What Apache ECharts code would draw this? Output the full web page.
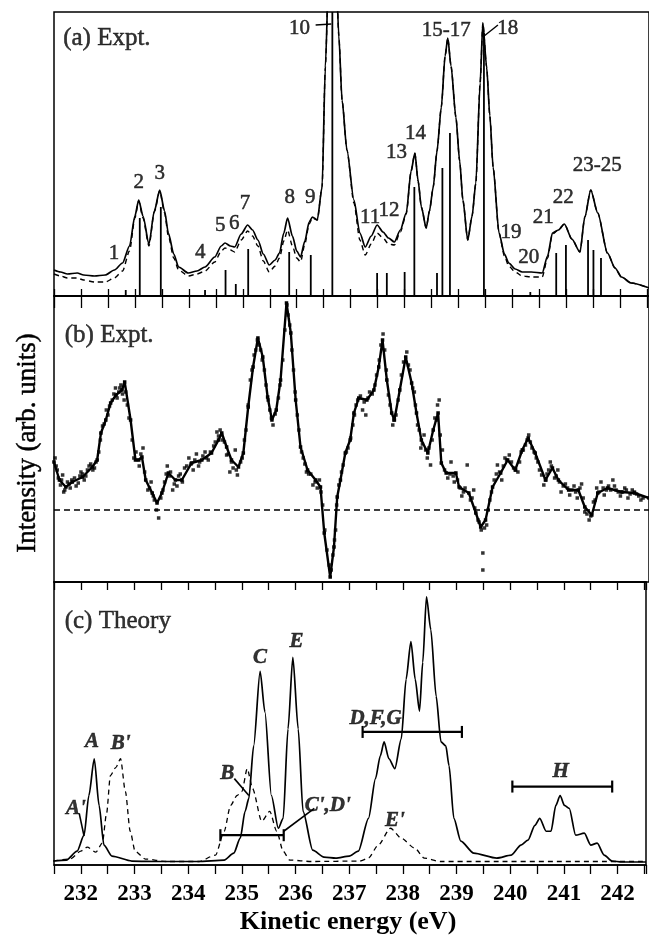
<!DOCTYPE html>
<html>
<head>
<meta charset="utf-8">
<script src="https://cdn.jsdelivr.net/npm/echarts@6/dist/echarts.min.js"></script>
<style>
  html, body { margin: 0; padding: 0; background: #fff; }
  #chart { width: 649px; height: 936px; }
</style>
</head>
<body>
<div id="chart"></div>
<script>
// energy axis (eV); the right end runs past the picture edge, as in the original
var xMin = 231.5, xMax = 242.53;
var serif = '"Liberation Serif", "Times New Roman", serif';

// (a) Expt. -- two measured curves, heights above panel floor
var aE      = [231.50,231.62,231.75,231.93,232.05,232.25,232.45,232.62,232.77,232.90,233.00,233.07,233.15,233.26,233.36,233.46,233.55,233.62,233.72,233.81,233.99,234.15,234.30,234.48,234.60,234.67,234.77,234.85,234.97,235.09,235.18,235.28,235.38,235.49,235.60,235.68,235.76,235.83,235.92,236.00,236.07,236.15,236.23,236.29,236.38,236.47,236.53,236.60,236.66,236.72,236.78,236.84,236.93,237.06,237.17,237.27,237.38,237.49,237.60,237.70,237.81,237.92,238.03,238.12,238.19,238.25,238.31,238.40,238.46,238.53,238.60,238.68,238.75,238.80,238.86,238.95,239.02,239.08,239.17,239.25,239.32,239.40,239.45,239.52,239.58,239.64,239.75,239.85,239.93,240.05,240.18,240.35,240.55,240.65,240.74,240.85,240.96,241.10,241.25,241.34,241.45,241.58,241.76,241.90,242.02,242.20,242.53];
var aSolid  = [26,24,22,23,21,20,21,26,33,50,80,96,80,52,85,106,85,63,42,29,23,25,29,39,50,53,50,49,62,71,66,56,42,31,36,43,63,78,60,45,39,55,74,79,76,109,229,340,420,340,260,196,146,96,63,49,60,71,64,58,54,66,83,125,143,115,89,68,85,109,145,189,240,258,230,179,135,96,56,80,113,213,273,229,180,129,63,42,33,27,24,24,23,40,63,66,72,57,44,79,106,83,43,28,19,13,8];
var aDashed = [22,20,18,18,16,14,14,18,25,45,78,95,78,50,84,105,83,60,38,26,20,22,25,34,45,48,46,44,56,65,60,50,35,24,30,38,55,66,50,38,34,52,72,78,76,109,229,340,420,340,260,196,146,93,56,41,52,63,58,52,51,64,82,125,143,115,89,68,85,109,145,189,240,258,230,179,135,96,56,80,113,213,273,229,180,129,63,40,30,24,20,19,19,38,62,66,72,57,44,79,106,83,43,28,19,13,8];

// (a) stick spectrum: energy, height
var sticksE = [232.83,233.09,233.48,234.30,234.68,234.87,235.10,235.86,236.26,236.66,237.49,237.67,238.00,238.18,238.60,238.70,238.84,239.47,240.33,240.81,240.99,241.40,241.50,241.64];
var sticksH = [6,78,89,6,26,12,47,44,41,284,23,23,24,109,23,128,163,263,4,43,51,56,46,38];

// (a) peak numbers: text, energy, height
var aLabelText = ['1','2','3','4','5','6','7','8','9','10','11','12','13','14','15-17','18','19','20','21','22','23-25'];
var aLabelE    = [232.61,233.07,233.46,234.21,234.58,234.84,235.04,235.87,236.25,236.05,237.36,237.71,237.85,238.20,238.77,239.91,239.97,240.30,240.57,240.94,241.57];
var aLabelH    = [43,114,123,44,71,73,93,99,99,268,79,86,144,163,266,268,64,39,79,99,131];

// (b) Expt. -- difference spectrum, value relative to dashed zero line
var bE    = [231.50,231.60,231.72,231.84,232.03,232.21,232.30,232.37,232.46,232.55,232.65,232.76,232.81,232.92,233.01,233.07,233.13,233.20,233.32,233.41,233.50,233.62,233.75,233.87,234.05,234.24,234.42,234.55,234.61,234.70,234.79,234.92,235.01,235.10,235.19,235.28,235.37,235.46,235.54,235.62,235.70,235.81,235.89,235.98,236.07,236.20,236.35,236.44,236.51,236.62,236.69,236.75,236.81,236.90,236.99,237.06,237.15,237.30,237.43,237.52,237.59,237.67,237.76,237.81,237.91,238.02,238.13,238.22,238.31,238.43,238.53,238.62,238.68,238.77,238.95,239.01,239.19,239.32,239.41,239.50,239.63,239.78,239.91,240.05,240.18,240.29,240.42,240.61,240.74,240.85,241.04,241.22,241.34,241.47,241.58,241.76,242.02,242.26,242.53];
var bLine = [48,30,23,28,33,43,50,77,90,107,115,120,128,90,50,50,53,30,17,7,17,37,30,30,47,50,57,70,77,63,50,43,57,103,143,172,153,113,90,100,130,207,177,110,63,40,30,23,-23,-67,-37,13,30,57,70,97,112,110,120,143,170,130,97,90,120,153,127,97,70,57,80,97,47,37,37,23,17,-3,-17,-10,23,37,50,40,60,72,57,30,42,30,20,20,3,-5,17,22,18,17,12];
// (b) scattered data points around the line: energy, value
var bDotE = [231.52,231.54,231.56,231.58,231.62,231.64,231.66,231.68,231.70,231.75,231.78,231.80,231.83,231.88,231.91,231.95,231.98,232.00,232.03,232.06,232.09,232.12,232.15,232.18,232.22,232.25,232.28,232.33,232.36,232.40,232.43,232.47,232.50,232.53,232.58,232.61,232.64,232.67,232.70,232.72,232.74,232.77,232.80,232.83,232.86,232.89,232.95,232.98,233.02,233.08,233.11,233.15,233.18,233.24,233.27,233.30,233.34,233.36,233.40,233.44,233.48,233.52,233.55,233.58,233.60,233.64,233.66,233.70,233.73,233.78,233.81,233.84,233.88,233.92,233.96,234.00,234.04,234.08,234.11,234.14,234.18,234.20,234.26,234.30,234.33,234.36,234.40,234.46,234.49,234.52,234.55,234.58,234.62,234.66,234.70,234.73,234.76,234.79,234.82,234.86,234.88,234.90,234.96,234.99,235.03,235.06,235.10,235.14,235.17,235.21,235.24,235.27,235.30,235.33,235.36,235.40,235.43,235.47,235.50,235.53,235.56,235.60,235.66,235.69,235.74,235.78,235.82,235.84,235.87,235.91,235.94,235.97,236.01,236.04,236.09,236.12,236.15,236.18,236.22,236.26,236.30,236.34,236.38,236.42,236.45,236.48,236.52,236.56,236.60,236.64,236.67,236.70,236.72,236.74,236.78,236.83,236.86,236.92,236.95,237.00,237.04,237.07,237.10,237.13,237.18,237.22,237.25,237.28,237.32,237.35,237.40,237.45,237.48,237.53,237.56,237.60,237.63,237.66,237.70,237.73,237.78,237.80,237.84,237.88,237.94,237.98,238.04,238.07,238.10,238.15,238.18,238.20,238.24,238.27,238.30,238.33,238.36,238.39,238.42,238.45,238.48,238.51,238.56,238.59,238.61,238.64,238.66,238.70,238.74,238.80,238.84,238.86,238.90,238.92,238.98,239.03,239.06,239.09,239.12,239.16,239.22,239.25,239.28,239.30,239.36,239.38,239.42,239.45,239.45,239.48,239.52,239.55,239.58,239.61,239.66,239.70,239.72,239.76,239.80,239.83,239.86,239.89,239.94,239.98,240.02,240.06,240.10,240.13,240.16,240.20,240.24,240.27,240.30,240.33,240.36,240.40,240.44,240.47,240.50,240.54,240.58,240.62,240.64,240.67,240.70,240.72,240.78,240.81,240.84,240.87,240.90,240.94,240.98,241.02,241.06,241.10,241.14,241.17,241.20,241.25,241.28,241.31,241.34,241.38,241.42,241.45,241.50,241.53,241.56,241.60,241.64,241.68,241.70,241.74,241.78,241.82,241.86,241.89,241.92,241.96,242.00,242.04,242.08,242.11,242.14,242.18,242.22,242.26,242.30,242.34,242.38,242.42];
var bDotV = [52,44,40,32,25,30,35,18,20,28,26,22,30,32,24,27,34,38,36,30,34,40,44,46,40,42,48,58,70,84,86,100,95,104,110,116,122,112,118,122,125,116,110,118,105,92,70,52,58,44,56,62,38,20,22,28,14,10,0,-8,12,20,28,36,44,34,38,20,26,24,34,36,28,42,44,52,46,40,50,56,44,48,54,58,52,50,58,64,68,78,74,80,70,68,55,56,38,48,42,60,40,35,48,52,70,80,105,130,140,155,160,170,165,160,150,140,125,110,100,92,85,96,112,125,150,180,205,195,185,160,140,118,95,80,58,52,46,38,36,36,25,28,22,30,18,5,-20,-40,-55,-60,-45,-30,-20,5,25,38,45,58,62,72,85,95,105,110,114,100,108,95,112,118,116,125,135,150,165,176,160,140,115,105,85,90,95,110,135,148,158,145,140,122,118,105,85,80,62,66,75,60,52,62,45,70,92,90,105,110,75,60,40,32,36,48,34,28,30,22,14,18,22,45,10,12,20,2,-10,-12,-20,-43,-60,-18,-15,0,10,18,30,36,45,38,30,44,52,50,55,48,42,40,38,48,58,60,65,70,75,68,62,58,52,48,40,35,25,30,36,40,48,44,32,34,40,28,18,24,26,22,15,20,24,18,12,22,26,12,-2,-4,-10,-6,8,10,22,18,28,22,15,20,24,20,30,24,20,18,14,18,22,20,12,16,20,18,16,14,10,12];

// (c) Theory -- solid and dashed calculated spectra
var cE      = [231.49,231.73,231.93,232.06,232.15,232.25,232.34,232.43,232.58,232.95,233.50,234.18,234.67,234.85,234.97,235.06,235.13,235.22,235.34,235.43,235.55,235.68,235.77,235.86,235.95,236.05,236.14,236.32,236.53,236.75,237.00,237.17,237.36,237.49,237.58,237.65,237.74,237.85,237.97,238.06,238.15,238.23,238.31,238.37,238.44,238.52,238.62,238.71,238.80,238.86,238.95,239.08,239.32,239.75,240.02,240.20,240.33,240.46,240.55,240.67,240.76,240.85,240.93,241.01,241.10,241.22,241.38,241.50,241.62,241.75,241.90,242.08,242.53];
var cSolid  = [2,3,12,28,68,105,58,18,7,2,1.5,1.5,3,10,25,52,65,118,193,152,68,35,45,135,207,135,52,13,6,5,7,12,45,85,108,122,105,95,125,185,223,185,153,202,268,235,168,122,118,98,45,22,10,5,8,18,23,38,45,32,32,58,68,58,55,28,30,18,20,8,2,1,1];
var cDashE  = [231.49,231.80,232.00,232.12,232.28,232.40,232.48,232.55,232.65,232.74,232.83,232.92,233.01,233.20,233.60,234.20,234.51,234.67,234.79,234.91,235.00,235.10,235.20,235.37,235.52,235.65,235.77,235.89,236.30,237.20,237.36,237.54,237.77,237.97,238.22,238.40,238.70,242.53];
var cDashed = [2,4,12,16,11,20,50,88,96,105,72,32,12,4,1.5,1.5,8,32,58,68,72,95,75,42,52,32,12,3,1.5,2,5,18,35,25,15,5,1.5,1.5];

// (c) state labels: text, energy, value
var cLabelText = ['A',"B'","A'",'B','C','E',"C',D'",'D,F,G','H',"E'"];
var cLabelE    = [232.21,232.74,231.91,234.73,235.34,236.02,236.60,237.49,240.94,237.85];
var cLabelV    = [122,120,55,90,207,223,58,145,92,43];
// (c) range bars: from, to, level
var cBarFrom = [234.60,237.25,240.04];
var cBarTo   = [235.78,239.10,241.90];
var cBarV    = [28,132,77];

// leader lines: x1, y1, x2, y2
var aLeaders = [[236.35,271,236.64,272],[239.73,271,239.45,259]];
var cLeaders = [[231.97,50,232.06,27],[234.86,85,235.13,68],[235.78,32,236.35,55]];

function xAxis(gridIndex, position, tickLen, inside, showLabel) {
  return {
    type: 'value', gridIndex: gridIndex, position: position,
    min: xMin, max: xMax, interval: 0.5,
    axisLine: { show: true, onZero: false, lineStyle: { color: '#000', width: 1.5 } },
    axisTick: { show: tickLen > 0, inside: inside, length: tickLen, lineStyle: { color: '#000', width: 1.3 } },
    axisLabel: {
      show: showLabel, margin: 18, color: '#000', fontFamily: serif, fontSize: 23, fontWeight: 'bold',
      formatter: function (v) { return Math.abs(v - Math.round(v)) < 1e-6 ? String(Math.round(v)) : ''; }
    },
    splitLine: { show: false }
  };
}

function zip(xs, ys) {
  return xs.map(function (x, i) { return [x, ys[i]]; });
}

function curve(xi, yi, xs, ys, dashed, width) {
  return {
    type: 'line', xAxisIndex: xi, yAxisIndex: yi, data: zip(xs, ys),
    showSymbol: false, smooth: 0.25, smoothMonotone: 'x', clip: true, z: 3, silent: true,
    lineStyle: { color: '#000', width: width, type: dashed ? [5, 4] : 'solid' }
  };
}

function labels(xi, yi, texts, xs, ys, italic, size) {
  return {
    type: 'scatter', xAxisIndex: xi, yAxisIndex: yi, symbolSize: 1, silent: true, z: 10,
    itemStyle: { color: 'rgba(0,0,0,0)' },
    data: texts.map(function (t, i) { return [xs[i], ys[i], t]; }),
    label: {
      show: true, position: 'inside', color: '#000', fontFamily: serif, fontSize: size,
      fontStyle: italic ? 'italic' : 'normal', fontWeight: italic ? 'bold' : 'normal',
      textBorderColor: '#000', textBorderWidth: 0.5,
      formatter: function (p) { return p.value[2]; }
    }
  };
}

function segments(xi, yi, rows, width) {
  return {
    type: 'custom', xAxisIndex: xi, yAxisIndex: yi, silent: true, z: 6,
    data: rows,
    encode: { x: [0, 2], y: [1, 3] },
    renderItem: function (params, api) {
      var a = api.coord([api.value(0), api.value(1)]);
      var b = api.coord([api.value(2), api.value(3)]);
      return { type: 'line', shape: { x1: a[0], y1: a[1], x2: b[0], y2: b[1] }, style: { stroke: '#000', lineWidth: width } };
    }
  };
}

function title(xi, yi, text, x, y) {
  return {
    type: 'scatter', xAxisIndex: xi, yAxisIndex: yi, symbolSize: 1, silent: true,
    itemStyle: { color: 'rgba(0,0,0,0)' },
    data: [[x, y, text]],
    label: {
      show: true, position: 'right', distance: 0, color: '#000', fontFamily: serif, fontSize: 25,
      textBorderColor: '#000', textBorderWidth: 0.5,
      formatter: function (p) { return p.value[2]; }
    }
  };
}

var chart = echarts.init(document.getElementById('chart'), null, { renderer: 'canvas' });

var option = {
  animation: false,
  backgroundColor: '#fff',
  grid: [
    { left: 54, top: 12, width: 600, height: 284, show: true, borderColor: '#000', borderWidth: 1.5 },
    { left: 54, top: 296, width: 600, height: 286, show: true, borderColor: '#000', borderWidth: 1.5 },
    { left: 54, top: 582, width: 600, height: 285, show: true, borderColor: '#000', borderWidth: 1.5 }
  ],
  xAxis: [
    xAxis(0, 'bottom', 7, true, false),
    xAxis(1, 'top', 12, true, false),
    xAxis(2, 'top', 8, true, false),
    Object.assign(xAxis(2, 'bottom', 9, false, true), {
      name: 'Kinetic energy (eV)', nameLocation: 'middle', nameGap: 44,
      nameTextStyle: { color: '#000', fontFamily: serif, fontSize: 26, fontWeight: 'bold', padding: [0, 0, 0, -4] }
    })
  ],
  yAxis: [
    { type: 'value', gridIndex: 0, min: 0, max: 284, show: false },
    { type: 'value', gridIndex: 1, min: -72, max: 214, show: false },
    { type: 'value', gridIndex: 2, min: -2, max: 283, show: false }
  ],
  graphic: [{
    type: 'text', x: 28, y: 443, rotation: Math.PI / 2,
    style: {
      text: 'Intensity (arb. units)', fill: '#000', stroke: '#000', lineWidth: 0.5,
      font: '27px ' + serif, textAlign: 'center', textVerticalAlign: 'middle'
    }
  }],
  series: [
    // panel (a)
    curve(0, 0, aE, aDashed, true, 1.4),
    curve(0, 0, aE, aSolid, false, 1.7),
    {
      type: 'custom', xAxisIndex: 0, yAxisIndex: 0, silent: true, z: 4,
      data: zip(sticksE, sticksH),
      renderItem: function (params, api) {
        var base = api.coord([api.value(0), 0]);
        var top = api.coord([api.value(0), api.value(1)]);
        return { type: 'line', shape: { x1: base[0], y1: base[1], x2: top[0], y2: top[1] }, style: { stroke: '#000', lineWidth: 1.8 } };
      }
    },
    labels(0, 0, aLabelText, aLabelE, aLabelH, false, 21),
    segments(0, 0, aLeaders, 1.4),
    title(0, 0, '(a) Expt.', 231.66, 258),
    // panel (b)
    {
      type: 'line', xAxisIndex: 1, yAxisIndex: 1, data: [[xMin, 0], [xMax, 0]],
      showSymbol: false, silent: true, lineStyle: { color: '#000', width: 1.3, type: [6, 4] }
    },
    {
      type: 'scatter', xAxisIndex: 1, yAxisIndex: 1, data: zip(bDotE, bDotV), symbol: 'rect', symbolSize: 3.5,
      silent: true, itemStyle: { color: '#000' }
    },
    {
      type: 'line', xAxisIndex: 1, yAxisIndex: 1, data: zip(bE, bLine), showSymbol: true, symbol: 'rect', symbolSize: 3.5,
      silent: true, itemStyle: { color: '#000' }, lineStyle: { color: '#000', width: 2.4 }, z: 3
    },
    title(1, 1, '(b) Expt.', 231.69, 175),
    // panel (c)
    curve(3, 2, cDashE, cDashed, true, 1.3),
    curve(3, 2, cE, cSolid, false, 1.7),
    {
      type: 'custom', xAxisIndex: 3, yAxisIndex: 2, silent: true, z: 6,
      data: cBarFrom.map(function (x, i) { return [x, cBarTo[i], cBarV[i]]; }),
      encode: { x: [0, 1], y: 2 },
      renderItem: function (params, api) {
        var a = api.coord([api.value(0), api.value(2)]);
        var b = api.coord([api.value(1), api.value(2)]);
        var s = { stroke: '#000', lineWidth: 2.2 };
        return {
          type: 'group', children: [
            { type: 'line', shape: { x1: a[0], y1: a[1], x2: b[0], y2: b[1] }, style: s },
            { type: 'line', shape: { x1: a[0], y1: a[1] - 6, x2: a[0], y2: a[1] + 6 }, style: s },
            { type: 'line', shape: { x1: b[0], y1: b[1] - 6, x2: b[0], y2: b[1] + 6 }, style: s }
          ]
        };
      }
    },
    labels(3, 2, cLabelText, cLabelE, cLabelV, true, 21),
    segments(3, 2, cLeaders, 1.6),
    title(3, 2, '(c) Theory', 231.69, 243)
  ]
};

chart.setOption(option);
</script>
</body>
</html>
